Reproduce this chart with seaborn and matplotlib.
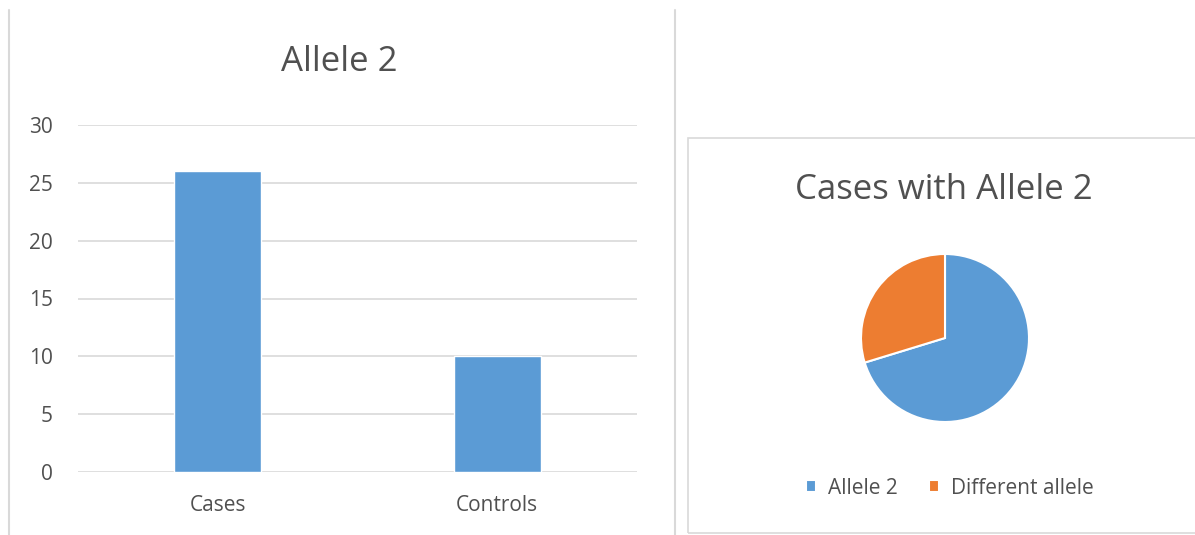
import matplotlib
matplotlib.use("Agg")
import matplotlib.pyplot as plt
import seaborn as sns
import pandas as pd
from matplotlib.lines import Line2D
from matplotlib.patches import Rectangle

# ---- data ----
bar_categories = ["Cases", "Controls"]
bar_values = [26, 10]
pie_labels = ["Allele 2", "Different allele"]
pie_values = [26, 11]
bar_title = "Allele 2"
pie_title = "Cases with Allele 2"
y_ticks = [0, 5, 10, 15, 20, 25, 30]

BLUE = "#5B9BD5"
ORANGE = "#ED7D31"
TEXT = "#505050"
GRID = "#D9D9D9"

sns.set_theme(style="white")
plt.rcParams["font.family"] = ["Open Sans", "DejaVu Sans"]

W, H = 1195, 535
fig = plt.figure(figsize=(W / 100, H / 100), dpi=100)
fig.patch.set_facecolor("white")

def fr(x0, y0, x1, y1):
    # pixel box (top-left origin) -> figure fraction rect
    return [x0 / W, 1 - y1 / H, (x1 - x0) / W, (y1 - y0) / H]

# panel decoration lines
fig.add_artist(Line2D([9 / W, 9 / W], [0, 1 - 10 / H], transform=fig.transFigure, color="#D9D9D9", lw=1.5))
fig.add_artist(Line2D([675 / W, 675 / W], [0, 1 - 10 / H], transform=fig.transFigure, color="#D9D9D9", lw=1.5))
fig.add_artist(Rectangle((688 / W, 1 - 533 / H), (W + 10 - 688) / W, (533 - 138) / H,
                         transform=fig.transFigure, fill=False, edgecolor="#D9D9D9", lw=1.2))

# ---- bar chart ----
ax = fig.add_axes(fr(78, 125, 637, 472))
df = pd.DataFrame({"cat": bar_categories, "val": bar_values})
sns.barplot(data=df, x="cat", y="val", color=BLUE, width=0.31, saturation=1, ax=ax, zorder=3)
ax.set_xlim(-0.5, 1.5)
ax.set_ylim(0, 30)
ax.set_yticks(y_ticks)
ax.yaxis.grid(True, color=GRID, lw=1.2, zorder=0)
ax.set_axisbelow(True)
for s in ax.spines.values():
    s.set_visible(False)
ax.tick_params(axis="both", length=0, labelsize=15, colors=TEXT)
ax.tick_params(axis="y", pad=18)
ax.tick_params(axis="x", pad=16.5)
ax.set_xlabel("")
ax.set_ylabel("")
fig.text(339 / W, 1 - 62 / H, bar_title, ha="center", va="center", fontsize=25, color=TEXT)

# ---- pie chart ----
pax = fig.add_axes(fr(861, 254, 1029, 422))
wedges, _ = pax.pie(pie_values, colors=[BLUE, ORANGE], startangle=90, counterclock=False,
                    wedgeprops=dict(edgecolor="white", linewidth=1.5))
pax.set_xlim(-1.0, 1.0)
pax.set_ylim(-1.0, 1.0)
pax.set_aspect("equal")
pax.axis("off")
fig.text(944 / W, 1 - 190 / H, pie_title, ha="center", va="center", fontsize=25, color=TEXT)

fig.legend(wedges, pie_labels, loc="center", bbox_to_anchor=(950 / W, 1 - 488 / H),
           ncol=2, frameon=False, fontsize=15, labelcolor=TEXT,
           handlelength=0.45, handleheight=0.45, handletextpad=0.6, columnspacing=1.5)

fig.savefig("out.png", dpi=100)
